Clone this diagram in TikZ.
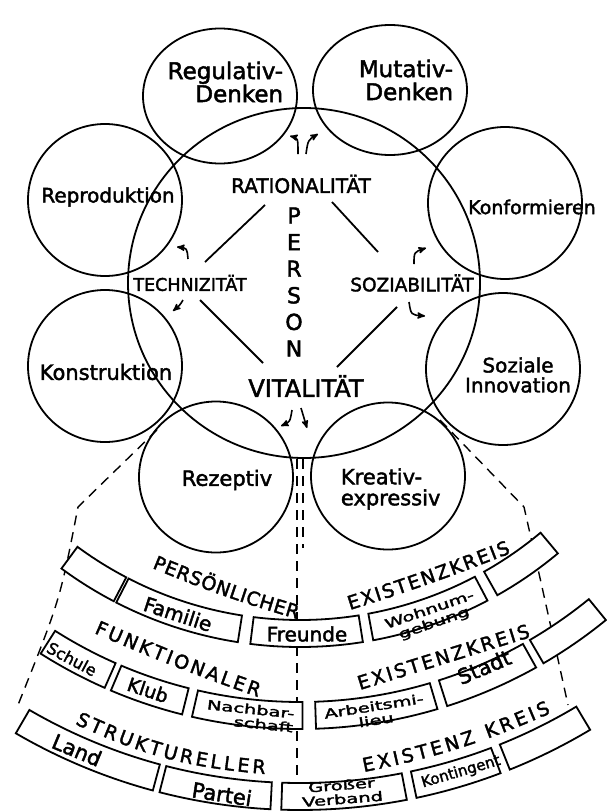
\documentclass[tikz,border=0pt]{standalone}
\usepackage{fontspec}
\setmainfont{DejaVu Sans}[FakeBold=2]
\usetikzlibrary{arrows, shapes.geometric, decorations.text}

\begin{document}
\begin{tikzpicture}[x=1pt, y=-1pt, >=stealth', line width=1.8pt,
    ring/.style={ellipse, draw, inner sep=0pt, minimum width=154pt, minimum height=152pt},
    hand/.style={font=\fontsize{#1}{#1}\selectfont, inner sep=1pt, align=center},
    two/.style={font=\fontsize{13}{14}\selectfont, inner sep=0pt, align=center, xscale=1.5},
    link/.style={line width=1.8pt},
    hook/.style={->, line width=1.6pt},
    kreis/.style={draw, fill=white},
    trenn/.style={line width=1.4pt, dash pattern=on 10pt off 7pt},
    arclabel/.style={decorate, decoration={text along path, text align={fit to path},
        text={|\fontsize{19}{19}\selectfont|#1}}}]

\useasboundingbox (0,0) rectangle (607,811);

% person circle and the eight fields around it
\node[ring, minimum width=352pt, minimum height=350pt] (pers) at (304,283) {};
\node[ring, minimum height=135pt] (regul) at (220,96) {};
\node[ring, minimum height=130pt] (mutat) at (390,90) {};
\node[ring] (repro)   at (105,200) {};
\node[ring] (konform) at (505,203) {};
\node[ring] (konstr)  at (105,366) {};
\node[ring] (sozinn)  at (503,369) {};
\node[ring, minimum height=151pt] (rezept)  at (216,477) {};
\node[ring, minimum height=147pt] (kreativ) at (388,476) {};

\node[hand=23, align=right, anchor=east] (regultxt) at (285,82) {Regulativ-\\Denken};
\node[hand=23, align=right, anchor=east] (mutattxt) at (455,80) {Mutativ-\\Denken};
\node[hand=20] (reprotxt)   at (108,197) {Reproduktion};
\node[hand=19] (konformtxt) at (532,207) {Konformieren};
\node[hand=21] (konstrtxt)  at (106,372) {Konstruktion};
\node[hand=20] (sozinntxt)  at (518,375) {Soziale\\Innovation};
\node[hand=21] (rezepttxt)  at (227,480) {Rezeptiv};
\node[hand=21, align=left, anchor=west] (kreativtxt) at (339,489) {Kreativ-\\expressiv};

\node[hand=20]   (rat) at (301,184) {RATIONALITÄT};
\node[hand=17.5] (tec) at (190,283) {TECHNIZITÄT};
\node[hand=18.5] (soz) at (412,283) {SOZIABILITÄT};
\node[hand=24]   (vit) at (306,386) {VITALITÄT};
\node[font=\fontsize{22}{26.6}\selectfont, align=center, inner sep=0pt] (person) at (294,282) {P\\E\\R\\S\\O\\N};

\path[link] ([shift={(-36,21)}]rat.center) edge ([shift={(15,-21)}]tec.center)
            ([shift={(31,18)}]rat.center)  edge ([shift={(-34,-31)}]soz.center)
            ([shift={(10,17)}]tec.center)  edge ([shift={(-43,-23)}]vit.center)
            ([shift={(-15,24)}]soz.center) edge ([shift={(31,-19)}]vit.center);

% little hooks towards the fields
\begin{scope}[shift={(rat.center)}]
  \draw[hook] (-3,-30) .. controls (-3,-46) .. (-11,-48);
  \draw[hook] (5,-30) .. controls (7,-44) .. (17,-50);
\end{scope}
\begin{scope}[shift={(tec.center)}]
  \draw[hook] (-2,-24) .. controls (-3,-35) .. (-13,-36);
  \draw[hook] (-7,17) .. controls (-10,22) .. (-17,28);
\end{scope}
\begin{scope}[shift={(soz.center)}]
  \draw[hook] (2,-19) .. controls (2,-31) .. (14,-35);
  \draw[hook] (-3,19) .. controls (-1,32) .. (13,33);
\end{scope}
\begin{scope}[shift={(vit.center)}]
  \draw[hook] (-14,24) .. controls (-16,36) .. (-25,40);
  \draw[hook] (-5,22) .. controls (-2,32) .. (1,42);
\end{scope}

% borders of the existence circles
\draw[trenn] (157,430) -- (78,507) .. controls (60,600) .. (18,705);
\draw[trenn] (440,420) -- (524,507) .. controls (545,600) .. (568,705);
\draw[trenn] (297,459) -- (297,811);
\draw[trenn] (303,459) -- (303,548);

% boxes on the three rings
\coordinate (ctr) at (300,245);
\foreach \a/\b/\r in {36.4/27.6/375, 27.2/8.9/375, 7.1/-9/375, -10.5/-27.8/375, -29.4/-39.9/375,
    32.4/23.8/457, 23/14.1/457, 12.9/-0.3/457, -1.9/-16.5/457, -17.7/-29.2/457, -30.2/-39.2/457,
    30.2/15.1/538, 14.4/3/538, 1.9/-10.9/538, -11.9/-20.8/538, -21.8/-30.9/538} {
  \pgfmathsetmacro{\sa}{90+\a}
  \pgfmathsetmacro{\sb}{90+\b}
  \pgfmathsetmacro{\ro}{\r+27}
  \draw[kreis] ([shift={(ctr)}]\sa:\r) arc[start angle=\sa, end angle=\sb, radius=\r]
    -- ([shift={(ctr)}]\sb:\ro) arc[start angle=\sb, end angle=\sa, radius=\ro] -- cycle;
}

\node[hand=20, rotate=-18]   (fam)    at (178,614) {Familie};
\node[hand=20]               (freu)   at (307,634) {Freunde};
\node[rotate=19, two]        (wohn)   at (432,617) {Wohnum-\\gebung};
\node[hand=16, rotate=-28]   (schule) at (72,659)  {Schule};
\node[hand=19, rotate=-18.5] (klub)   at (148,690) {Klub};
\node[rotate=-6, two, align=right] (nachb) at (250,716) {Nachbar-\\schaft};
\node[rotate=9, two]         (arbeit) at (375,713) {Arbeitsmi-\\lieu};
\node[hand=21, rotate=23]    (stadt)  at (484,667) {Stadt};
\node[hand=21, rotate=-22.7] (land)   at (77,750)  {Land};
\node[hand=21, rotate=-8.7]  (partei) at (222,794) {Partei};
\node[rotate=4.5, two]       (verband) at (342,792) {Großer\\Verband};
\node[hand=15, rotate=16.4]  (kontin) at (461,772) {Kontingent};

\path[arclabel=PERSÖNLICHER] (152,568) to[bend right=3] (297,619);
\path[arclabel=EXISTENZKREIS] (350,610) to[bend right=2] (511,553);
\path[arclabel=FUNKTIONALER] (94,633) to[bend right=2] (258,697);
\path[arclabel=EXISTENZKREIS] (360,690) -- (531,637);
\path[arclabel=STRUKTURELLER] (75,724) to[bend right=10] (265,774);
\path[arclabel={EXISTENZ KREIS}] (364,772) to[bend right=6] (551,713);

\end{tikzpicture}
\end{document}
